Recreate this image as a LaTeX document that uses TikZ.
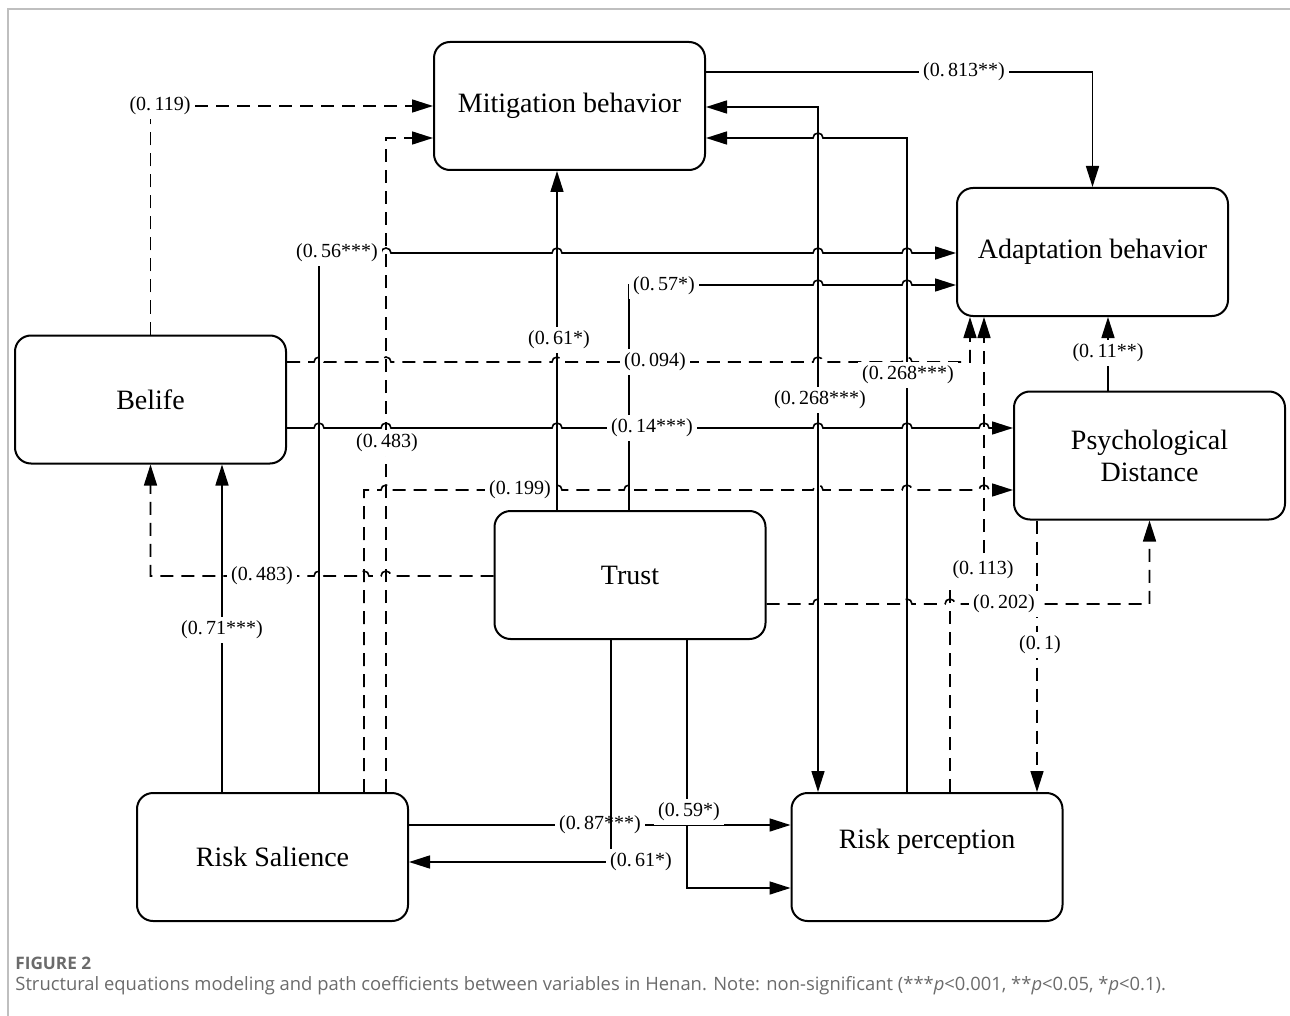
\documentclass[tikz,border=0pt]{standalone}
\usepackage{fontspec}
\setmainfont{Liberation Serif}
\newfontfamily\capfont{Open Sans}
\usetikzlibrary{arrows.meta}
\colorlet{capgray}{black!58}
\colorlet{framegray}{black!25}
\tikzset{
  var/.style={draw,line width=1pt,rounded corners=8pt,minimum width=135.5pt,minimum height=64pt,align=center,font=\fontsize{14}{16}\selectfont},
  sig/.style={line width=0.8pt,->},
  nsig/.style={sig,dash pattern=on 6.5pt off 4pt},
  coef/.style={fill=white,inner sep=2pt,font=\fontsize{10}{11}\selectfont}
}

\begin{document}
\begin{tikzpicture}[x=0.5pt,y=-0.5pt,>={Triangle[length=10.5pt,width=6.5pt]}]
\useasboundingbox (0,0) rectangle (1290,1016);
\draw[framegray,line width=1pt] (8,1016) -- (8,9) -- (1290,9);

\node[var] (Mitig) at (569.5,106) {Mitigation behavior};
\node[var] (Adapt) at (1092.5,252) {Adaptation behavior};
\node[var] (Belife) at (150.5,399.5) {Belife};
\node[var] (PsyD) at (1149.5,455.5) {Psychological\\Distance};
\node[var] (Trust) at (630,575) {Trust};
\node[var] (RiskS) at (272.5,857) {Risk Salience};
\node[var,text depth=18pt] (RiskP) at (927,857) {Risk perception};

\draw[nsig] (Belife.north) |- (Mitig.west);
\draw[nsig] (RiskS.north -| 386,0) |- (Mitig.west |- 0,138);
\draw[nsig] (RiskS.north -| 364,0) -- (364,490)
  \foreach \h in {386,557,629,818,907,984} {-- ({\h-5},490) arc[start angle=180,end angle=0,radius=2.5pt]}
  -- (PsyD.west |- 0,490);
\draw[sig] (RiskS.north -| 319,0) -- (319,253)
  \foreach \h in {386,557,818,907} {-- ({\h-5},253) arc[start angle=180,end angle=0,radius=2.5pt]}
  -- (Adapt.west |- 0,253);
\draw[sig] (RiskS.north -| 222,0) -- (Belife.south -| 222,0);
\draw[sig] (RiskS.east |- 0,825) -- (RiskP.west |- 0,825);
\draw[sig] (Trust.south -| 687,0) |- (RiskP.west |- 0,888);
\draw[sig] (Trust.north -| 557,0) -- (Mitig.south -| 557,0);
\draw[sig] (Trust.north -| 629,0) -- (629,285)
  \foreach \h in {818,907} {-- ({\h-5},285) arc[start angle=180,end angle=0,radius=2.5pt]}
  -- (Adapt.west |- 0,285);
\draw[nsig] (Trust.west |- 0,576)
  \foreach \h in {386,364,319} {-- ({\h+5},576) arc[start angle=0,end angle=180,radius=2.5pt]}
  -| (Belife.south);
\draw[nsig] (Trust.east |- 0,604)
  \foreach \h in {818,907,950} {-- ({\h-5},604) arc[start angle=180,end angle=0,radius=2.5pt]}
  -| (PsyD.south);
\draw[sig] (Mitig.east |- 0,72) -| (Adapt.north);
\draw[sig,<->] (Mitig.east |- 0,107) -| (RiskP.north -| 818,0);
\draw[sig] (RiskP.north -| 907,0) -- (907,138) -- ({818+5},138)
  arc[start angle=0,end angle=180,radius=2.5pt] -- (Mitig.east |- 0,138);
\draw[nsig] (Belife.east |- 0,362)
  \foreach \h in {319,386,557,629,818,907} {-- ({\h-5},362) arc[start angle=180,end angle=0,radius=2.5pt]}
  -| (Adapt.south -| 970,0);
\draw[sig] (Belife.east |- 0,428)
  \foreach \h in {319,386,557,629,818,907,984} {-- ({\h-5},428) arc[start angle=180,end angle=0,radius=2.5pt]}
  -- (PsyD.west |- 0,428);
\draw[sig] (PsyD.north -| 1108,0) -- (Adapt.south -| 1108,0);
\draw[nsig] (PsyD.south -| 1037,0) -- (RiskP.north -| 1037,0);
\draw[nsig] (RiskP.north -| 950,0) -- (950,570) -- (984,570) -- (Adapt.south -| 984,0);

\node[coef] (c119) at (160,106) {(0.\,119)};
\node[coef] (c483a) at (387,443) {(0.\,483)};
\node[coef] (c199) at (520,490) {(0.\,199)};
\node[coef] (c56) at (337,253) {(0.\,56***)};
\node[coef] (c71) at (222,630) {(0.\,71***)};
\node[coef] (c87) at (600,825) {(0.\,87***)};
\node[coef] (c59) at (689,812) {(0.\,59*)};
\node[coef] (c61a) at (559,340) {(0.\,61*)};
\node[coef] (c57) at (664,286) {(0.\,57*)};
\node[coef] (c483b) at (262,576) {(0.\,483)};
\node[coef] (c202) at (1004,604) {(0.\,202)};
\node[coef] (c813) at (964,72) {(0.\,813**)};
\node[coef] (c268a) at (820,400) {(0.\,268***)};
\node[coef] (c268b) at (908,375) {(0.\,268***)};
\node[coef] (c094) at (655,362) {(0.\,094)};
\node[coef] (c14) at (652,428) {(0.\,14***)};
\node[coef] (c11) at (1108,353) {(0.\,11**)};
\node[coef] (c1) at (1040,645) {(0.\,1)};
\node[coef] (c113) at (983,570) {(0.\,113)};

\draw[sig] (Trust.south -| 611,0) |- (RiskS.east |- 0,862);
\node[coef] (c61b) at (641,862) {(0.\,61*)};

\node[anchor=base west,inner sep=0,text=capgray,font=\capfont\bfseries\fontsize{8.6}{10}\selectfont] (fig) at (15,969) {FIGURE 2};
\node[anchor=base west,inner sep=0,text=capgray,font=\capfont\fontsize{9.2}{11}\selectfont] (cap) at (15,990) {Structural equations modeling and path coefficients between variables in Henan. Note: non-significant (***\textit{p}<0.001, **\textit{p}<0.05, *\textit{p}<0.1).};
\end{tikzpicture}
\end{document}
